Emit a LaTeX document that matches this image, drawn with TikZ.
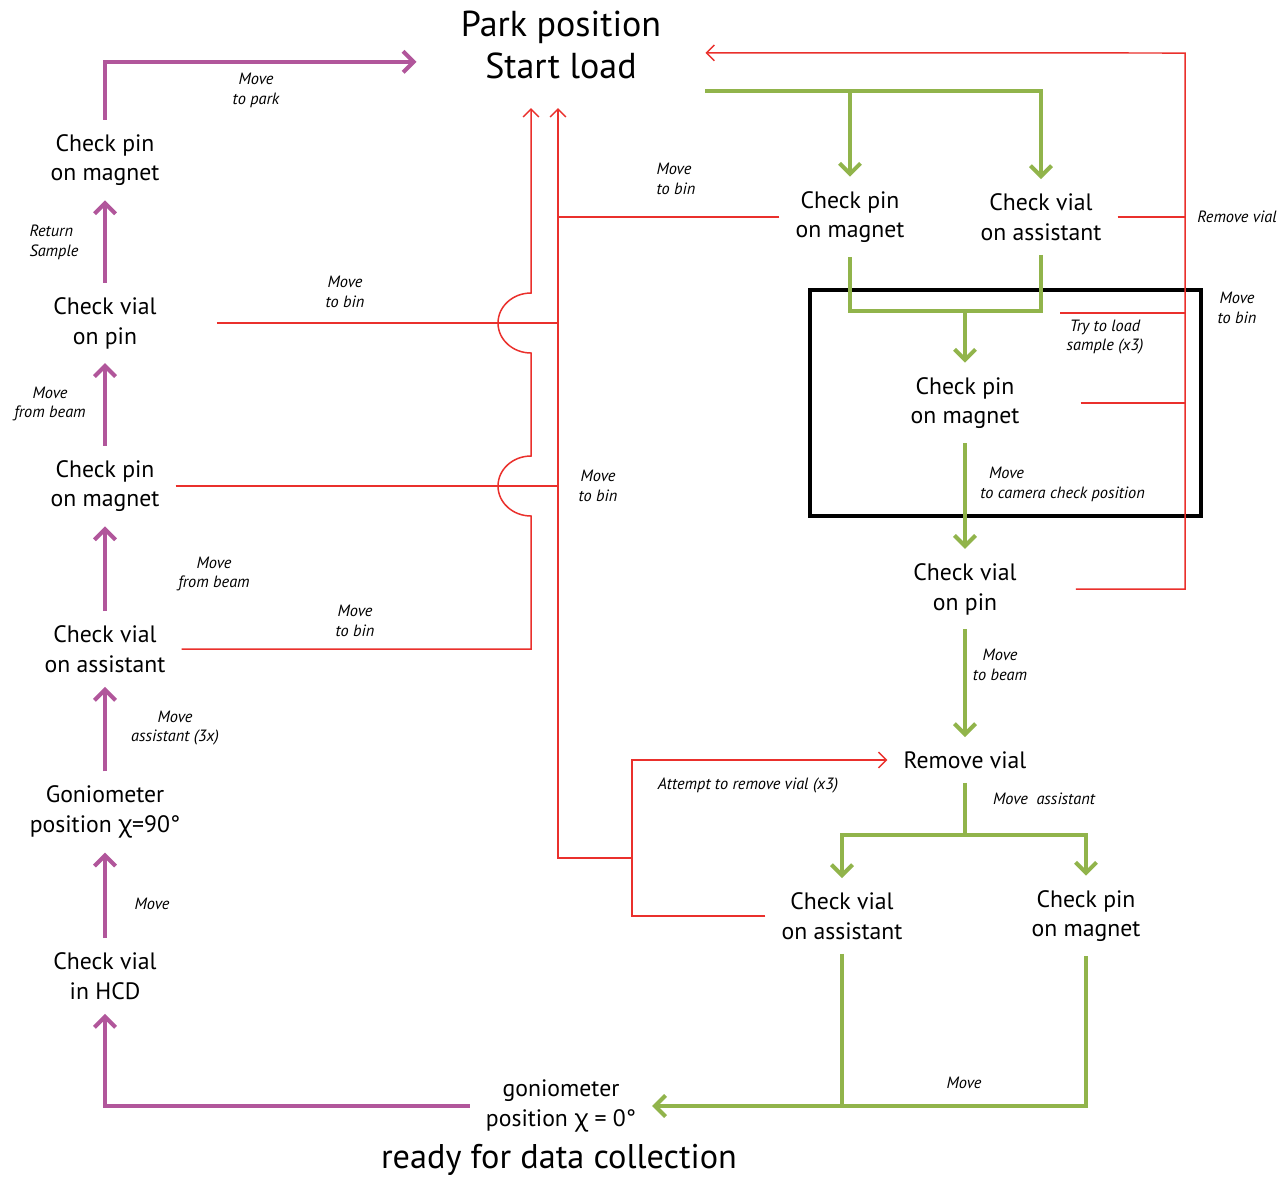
\documentclass[tikz,border=0pt]{standalone}
\usepackage{fontspec}
\setmainfont{PT Sans}
\newfontfamily\chifont{Noto Sans}
\usetikzlibrary{arrows.meta}

\definecolor{pathpurple}{RGB}{177,86,155}
\definecolor{pathgreen}{RGB}{145,180,75}
\definecolor{pathred}{RGB}{234,48,44}

\newcommand{\statesize}{\fontsize{13.5}{17}\selectfont}
\newcommand{\notesize}{\fontsize{9.3}{11.3}\selectfont\itshape}
\newcommand{\titlesize}{\fontsize{20.5}{24.4}\selectfont}
\newcommand{\readysize}{\fontsize{19.5}{24.4}\selectfont}
\newcommand{\chisym}{{\chifont χ}}

\begin{document}
\begin{tikzpicture}[x=0.02cm,y=-0.02cm,
    purpleflow/.style={draw=pathpurple,line width=2.3pt,-{Straight Barb[length=6pt,width=12pt]}},
    greenflow/.style={draw=pathgreen,line width=2.3pt,-{Straight Barb[length=6pt,width=12pt]}},
    greenjoin/.style={draw=pathgreen,line width=2.3pt},
    failflow/.style={draw=pathred,line width=0.85pt,-{Straight Barb[length=4.5pt,width=9pt]}},
    failjoin/.style={draw=pathred,line width=0.85pt}]

      \useasboundingbox (0,0) rectangle (1281,1181);
      \fill[white] (0,0) rectangle (1281,1181);

      \begin{scope}[every node/.style={align=center,font=\statesize,inner xsep=9pt,inner ysep=8pt}]
        \node[font=\titlesize,inner xsep=25pt] (park) at (561,45) {Park position\\Start load};
        \node (LA1) at (105,160) {Check pin\\on magnet};
        \node (LA2) at (105,323) {Check vial\\on pin};
        \node (LA3) at (105,486) {Check pin\\on magnet};
        \node (LA4) at (105,649) {Check vial\\on assistant};
        \node (LA5) at (105,812) {Goniometer\\position \chisym=90°};
        \node (LA6) at (105,976) {Check vial\\in HCD};
        \node (R1)  at (850,217) {Check pin\\on magnet};
        \node (R2)  at (1041,217) {Check vial\\on assistant};
        \node (R3)  at (965,403) {Check pin\\on magnet};
        \node (R4)  at (965,589) {Check vial\\on pin};
        \node (RemV) at (965,760) {Remove vial};
        \node (RB1) at (842,916) {Check vial\\on assistant};
        \node (RB2) at (1086,916) {Check pin\\on magnet};
        \node (gonio0) at (561,1106) {goniometer\\position \chisym{} = 0°};
        \node[font=\readysize] (ready) at (559,1160) {ready for data collection};
      \end{scope}

      \coordinate (binA) at (531,108);
      \coordinate (binB) at (558,108);
      \coordinate (attempt) at (632,858);
      \coordinate (rbus) at (1185,53);
      \coordinate (tryload) at (1060,313);
      \coordinate (loadsplit) at ([yshift=-26pt]park.east);
      \coordinate (trysplit) at (965,311);
      \coordinate (assistsplit) at (965,835);

      \draw[line width=2.3pt] (810,290) rectangle (1201,516);

      \begin{scope}[every node/.style={font=\notesize,align=center,inner sep=0pt}]
        \node (mpark)   at (256,90)  {Move\\to park};
        \node[align=left] (mret) at (54,242) {Return\\Sample};
        \node (mbeam1)  at (50,404)  {Move\\from beam};
        \node (mbeam2)  at (214,574) {Move\\from beam};
        \node (mbin1)   at (345,292) {Move\\to bin};
        \node (mbin2)   at (355,621) {Move\\to bin};
        \node (massist) at (175,728) {Move\\assistant (3x)};
        \node (mhcd)    at (152,904) {Move};
        \node[align=left] (mbin3) at (676,179) {Move\\to bin};
        \node (mbin4)   at (598,486) {Move\\to bin};
        \node (mremove) at (1237,217) {Remove vial};
        \node (mbin5)   at (1237,308) {Move\\to bin};
        \node (mtry)    at (1105,337) {Try to load\\sample (x3)};
        \node[align=left,anchor=west] (mcam) at (980,484) {\hspace*{5pt}Move\\to camera check position};
        \node (mtobeam) at (1000,665) {Move\\to beam};
        \node (mattempt) at (748,785) {Attempt to remove vial (x3)};
        \node (mmvassist) at (1044,799) {Move\ \ assistant};
        \node (mgonio)  at (964,1083) {Move};
      \end{scope}

      \draw[purpleflow] (gonio0.west) -| (LA6.south);
      \draw[purpleflow] (LA6) -- (LA5);
      \draw[purpleflow] (LA5) -- (LA4);
      \draw[purpleflow] (LA4) -- (LA3);
      \draw[purpleflow] (LA3) -- (LA2);
      \draw[purpleflow] (LA2) -- (LA1);
      \draw[purpleflow] (LA1.north) |- ([yshift=-9.6pt]park.west);

      \draw[greenflow] (loadsplit) -| (R2.north);
      \draw[greenflow] (loadsplit -| R1.north) -- (R1.north);
      \draw[greenjoin] (R1.south) |- (trysplit);
      \draw[greenjoin] (R2.south) |- (trysplit);
      \draw[greenflow] (trysplit) -- (R3.north);
      \draw[greenflow] (R3) -- (R4);
      \draw[greenflow] (R4) -- (RemV);
      \draw[greenjoin] (RemV.south) -- (assistsplit);
      \draw[greenflow] (assistsplit) -| (RB1.north);
      \draw[greenflow] (assistsplit) -| (RB2.north);
      \draw[greenflow] (RB2.south) |- (gonio0.east);
      \draw[greenjoin] (RB1.south) -- (RB1.south |- gonio0.east);

      \draw[failflow] (LA4.east) -- (LA4.east -| binA) -- (531,516)
        arc[start angle=270,end angle=90,x radius=0.66cm,y radius=0.6cm] -- (531,353)
        arc[start angle=270,end angle=90,x radius=0.66cm,y radius=0.6cm] -- (binA);
      \draw[failjoin] (LA2.east) ++(44,0) -- (LA2.east -| binB);
      \draw[failjoin] (LA3.east) -- (LA3.east -| binB);
      \draw[failjoin] (R1.west) -- (R1.west -| binB);
      \draw[failflow] (attempt) -| (binB);
      \draw[failflow] (RB1.west) -| (attempt |- RemV.west) -- (RemV.west);

      \draw[failflow] (R4.east) ++(43,0) -| (rbus) -- ([yshift=-4.5pt]park.east);
      \draw[failjoin] (R2.east) -- (R2.east -| rbus);
      \draw[failjoin] (tryload) -- (tryload -| rbus);
      \draw[failjoin] (R3.east) ++(45,0) -- (R3.east -| rbus);

    \end{tikzpicture}
\end{document}
